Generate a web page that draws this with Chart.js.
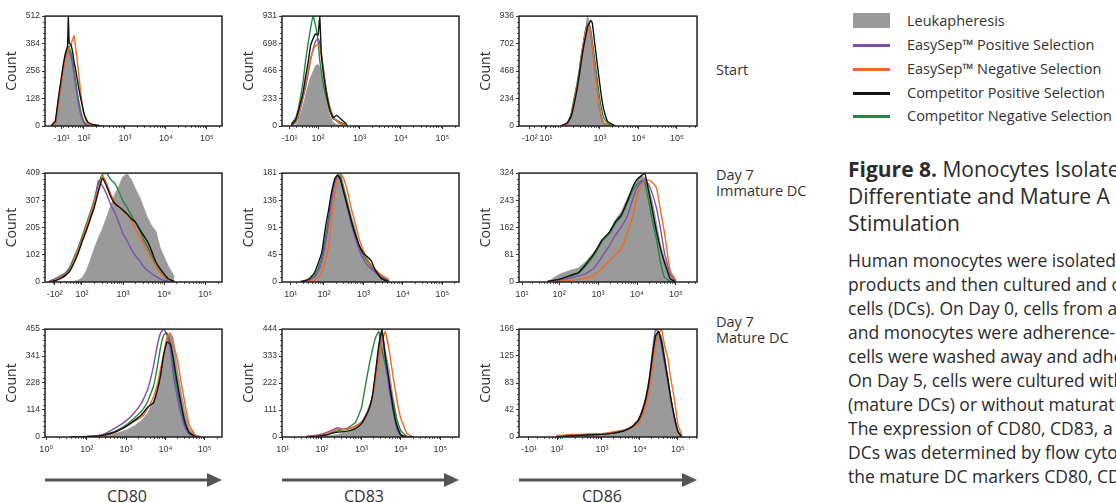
<!DOCTYPE html>
<html>
<head>
<meta charset="utf-8">
<title>Monocytes isolated from leukapheresis – DC markers</title>
<script src="https://cdn.jsdelivr.net/npm/chart.js@4.4.1/dist/chart.umd.min.js"></script>
<style>
  html, body { margin: 0; padding: 0; }
  body { width: 1116px; height: 503px; position: relative; overflow: hidden; background: #fff;
         font-family: 'Open Sans', 'DejaVu Sans', sans-serif; color: #333; }
  canvas { position: absolute; }
  .txt { position: absolute; white-space: nowrap; }
  .row { left: 716px; font-size: 14.5px; line-height: 16px; }
  .key { position: absolute; left: 853px; width: 37px; }
  .leg { left: 907px; font-size: 14.5px; line-height: 16px; }
  .cd { font-size: 16px; line-height: 18px; top: 487px; width: 80px; text-align: center; }
  #caption { position: absolute; left: 848px; top: 156px; width: 400px; color: #2b2b2b; }
  #caption h2 { margin: 0; font-size: 21px; line-height: 27px; font-weight: normal; white-space: nowrap; }
  #caption p { margin: 11px 0 0 0; font-size: 17.5px; line-height: 24px; white-space: nowrap; }
</style>
</head>
<body>

<!-- row labels -->
<div class="txt row" style="top:62px">Start</div>
<div class="txt row" style="top:167px">Day 7</div>
<div class="txt row" style="top:183px">Immature DC</div>
<div class="txt row" style="top:314px">Day 7</div>
<div class="txt row" style="top:330px">Mature DC</div>

<!-- legend -->
<div class="key" style="top:13px;height:15px;background:#9a9a9a"></div>
<div class="key" style="top:44px;height:3px;background:#7a52ad"></div>
<div class="key" style="top:68px;height:3px;background:#f26a24"></div>
<div class="key" style="top:92px;height:3px;background:#111"></div>
<div class="key" style="top:115px;height:3px;background:#1f8a3e"></div>
<div class="txt leg" style="top:13px">Leukapheresis</div>
<div class="txt leg" style="top:37px">EasySep™ Positive Selection</div>
<div class="txt leg" style="top:61px">EasySep™ Negative Selection</div>
<div class="txt leg" style="top:85px">Competitor Positive Selection</div>
<div class="txt leg" style="top:108px">Competitor Negative Selection</div>

<!-- caption -->
<div id="caption">
  <h2><b>Figure 8.</b> Monocytes Isolated<br>Differentiate and Mature A<br>Stimulation</h2>
  <p>Human monocytes were isolated<br>
  products and then cultured and c<br>
  cells (DCs). On Day 0, cells from a<br>
  and monocytes were adherence-s<br>
  cells were washed away and adhe<br>
  On Day 5, cells were cultured with<br>
  (mature DCs) or without maturati<br>
  The expression of CD80, CD83, a<br>
  DCs was determined by flow cyto<br>
  the mature DC markers CD80, CD</p>
</div>

<!-- marker arrows -->
<svg width="720" height="30" style="position:absolute;left:0;top:465px">
  <line x1="45" y1="15" x2="209" y2="15" stroke="#555" stroke-width="3"/>
  <polygon points="207,8 222,15 207,22" fill="#555"/>
  <line x1="282" y1="15" x2="446" y2="15" stroke="#555" stroke-width="3"/>
  <polygon points="444,8 459,15 444,22" fill="#555"/>
  <line x1="519" y1="15" x2="684" y2="15" stroke="#555" stroke-width="3"/>
  <polygon points="682,8 697,15 682,22" fill="#555"/>
</svg>
<div class="txt cd" style="left:87px">CD80</div>
<div class="txt cd" style="left:324px">CD83</div>
<div class="txt cd" style="left:562px">CD86</div>

<script>
// x values are in display decades of the flow cytometry axis (10^k sits at k)

// ---- Start, CD80
const xStartCd80 = [1.20,1.30,1.38,1.45,1.50,1.55,1.60,1.62,1.64,1.68,1.72,1.76,1.80,1.84,1.88,1.92,1.96,2.00,2.05,2.10,2.20,2.40];
const leukStartCd80 = [0,10,120,210,275,320,352,358,355,335,300,255,200,150,105,70,40,20,8,3,0,0];
const esPosStartCd80 = [0,8,115,205,270,315,345,350,345,325,290,240,185,135,90,55,30,14,5,2,0,0];
const esNegStartCd80 = [0,8,110,200,265,310,340,350,365,380,400,420,360,300,230,160,100,55,25,10,2,0];
const compPosStartCd80 = [2,22,135,225,290,340,372,512,385,380,350,300,260,215,170,130,95,60,35,18,8,2];
const compNegStartCd80 = [0,12,125,215,280,330,362,370,365,345,310,262,208,155,110,72,42,22,9,3,0,0];

// ---- Start, CD83
const xStartCd83 = [1.35,1.45,1.52,1.58,1.64,1.70,1.76,1.82,1.88,1.94,2.00,2.04,2.08,2.14,2.20,2.28,2.36,2.45,2.55,2.70];
const leukStartCd83 = [0,5,40,100,170,260,340,410,460,510,520,500,440,350,230,90,30,12,5,0];
const esPosStartCd83 = [0,25,70,150,240,330,440,560,650,720,740,700,620,450,300,160,80,40,15,0];
const esNegStartCd83 = [0,30,90,170,260,360,470,570,640,680,690,670,600,440,300,170,85,45,18,0];
const compPosStartCd83 = [5,45,120,200,290,420,540,680,740,780,770,931,600,420,280,140,70,90,60,10];
const compNegStartCd83 = [20,60,140,250,380,560,700,830,931,850,720,560,460,330,240,140,60,50,30,5];

// ---- Start, CD86
const xStartCd86 = [2.00,2.15,2.25,2.32,2.40,2.46,2.52,2.58,2.64,2.68,2.72,2.76,2.80,2.86,2.92,2.98,3.04,3.10,3.20,3.40];
const leukStartCd86 = [0,10,90,200,330,450,600,740,850,936,880,800,700,520,350,180,80,25,5,0];
const esPosStartCd86 = [0,10,80,190,320,440,590,720,830,870,860,790,690,510,340,175,75,25,5,0];
const esNegStartCd86 = [0,12,85,195,320,440,590,720,820,860,850,790,690,520,340,180,80,28,6,0];
const compPosStartCd86 = [5,25,80,170,300,420,560,680,780,850,870,900,880,720,560,400,250,140,40,0];
const compNegStartCd86 = [0,20,100,220,350,470,610,720,810,850,860,820,730,580,420,270,150,70,20,0];

// ---- Day 7 immature DC, CD80
const xImmCd80 = [1.20,1.35,1.50,1.60,1.70,1.80,1.90,2.00,2.10,2.20,2.30,2.40,2.50,2.60,2.70,2.80,2.90,3.00,3.10,3.20,3.30,3.40,3.50,3.60,3.70,3.80,3.90,4.00,4.10,4.25];
const leukImmCd80 = [0,0,0,0,0,2,6,15,40,80,125,165,200,242,285,330,360,395,405,385,350,320,280,240,210,190,130,95,60,20];
const esPosImmCd80 = [2,12,22,30,48,78,115,155,200,245,295,380,360,330,290,260,223,180,155,124,99,81,58,43,31,21,12,6,3,0];
const esNegImmCd80 = [0,8,18,28,45,80,120,160,205,250,300,350,400,370,330,300,285,266,256,230,200,170,145,115,88,60,37,22,12,3];
const compPosImmCd80 = [0,5,15,25,40,70,105,150,190,235,280,340,390,360,320,295,282,270,255,238,225,200,175,150,115,75,50,30,12,2];
const compNegImmCd80 = [3,12,25,35,55,90,125,170,215,260,310,370,405,409,385,370,340,304,280,250,225,195,160,130,100,62,40,20,10,2];

// ---- Day 7 immature DC, CD83
const xImmCd83 = [1.40,1.60,1.75,1.85,1.95,2.05,2.12,2.20,2.28,2.35,2.42,2.50,2.60,2.70,2.80,2.90,3.00,3.10,3.20,3.30,3.45,3.65];
const leukImmCd83 = [0,1,5,15,30,65,95,135,168,176,181,160,135,108,86,60,47,37,29,22,12,3];
const esPosImmCd83 = [0,2,7,17,34,68,98,138,166,176,172,150,122,95,72,52,38,28,22,16,8,2];
const esNegImmCd83 = [0,1,3,8,18,38,60,110,150,172,181,172,150,120,96,70,52,38,28,20,12,4];
const compPosImmCd83 = [0,4,14,30,50,95,120,151,172,178,170,150,125,100,78,60,48,42,35,20,6,0];
const compNegImmCd83 = [1,4,10,22,42,78,108,145,170,178,175,155,128,102,80,58,45,35,26,18,8,2];

// ---- Day 7 immature DC, CD86
const xImmCd86 = [1.70,2.00,2.30,2.50,2.70,2.90,3.10,3.30,3.45,3.60,3.75,3.90,4.00,4.10,4.20,4.30,4.40,4.50,4.60,4.70,4.85,5.00];
const leukImmCd86 = [0,22,35,42,62,90,118,150,185,210,248,285,300,315,310,280,235,175,112,70,25,3];
const esPosImmCd86 = [0,5,12,18,26,42,75,110,140,165,195,250,280,295,304,290,260,220,160,90,25,2];
const esNegImmCd86 = [0,2,5,8,12,20,40,65,82,100,145,200,255,285,300,304,295,280,215,150,34,5];
const compPosImmCd86 = [2,8,20,28,55,85,125,150,180,200,240,285,305,315,324,270,210,150,100,60,10,0];
const compNegImmCd86 = [1,7,18,26,50,80,120,145,175,195,235,275,290,300,295,240,180,125,60,15,2,0];

// ---- Day 7 mature DC, CD80
const xMatCd80 = [1.60,2.00,2.40,2.70,3.00,3.20,3.40,3.55,3.70,3.80,3.88,3.96,4.04,4.12,4.20,4.30,4.40,4.50,4.60,4.75,4.90];
const leukMatCd80 = [0,0,3,13,28,45,70,100,154,205,270,345,420,440,417,290,190,105,40,8,0];
const esPosMatCd80 = [0,2,10,35,68,100,145,200,300,390,440,455,430,380,265,170,95,40,12,2,0];
const esNegMatCd80 = [0,1,6,18,45,65,85,120,170,225,290,350,420,438,390,334,230,140,55,10,0];
const compPosMatCd80 = [0,1,7,20,45,68,95,125,145,200,262,350,400,395,334,230,140,60,20,3,0];
const compNegMatCd80 = [0,2,8,22,50,78,110,150,215,300,380,430,440,400,310,200,120,55,18,3,0];

// ---- Day 7 mature DC, CD83
const xMatCd83 = [1.60,1.90,2.10,2.25,2.40,2.55,2.70,2.85,3.00,3.10,3.20,3.28,3.36,3.44,3.52,3.60,3.70,3.80,3.90,4.00,4.15,4.30];
const leukMatCd83 = [0,0,3,6,10,18,25,38,55,90,130,165,250,350,430,360,280,165,70,12,2,0];
const esPosMatCd83 = [2,8,18,28,38,32,35,45,62,85,115,170,260,360,434,330,200,110,30,5,0,0];
const esNegMatCd83 = [0,5,12,22,32,30,35,45,60,80,115,160,240,310,390,434,360,250,150,75,15,0];
const compPosMatCd83 = [0,3,8,15,20,22,26,35,55,82,118,170,270,380,444,340,230,120,45,8,0,0];
const compNegMatCd83 = [0,5,10,18,25,30,42,60,120,210,300,360,410,434,360,300,220,150,70,25,3,0];

// ---- Day 7 mature DC, CD86
const xMatCd86 = [1.80,2.20,2.60,3.00,3.30,3.60,3.80,3.95,4.05,4.15,4.25,4.33,4.41,4.49,4.57,4.65,4.73,4.81,4.90,5.00,5.10];
const leukMatCd86 = [1,3,4,5,6,10,16,22,35,55,80,115,150,160,155,125,85,55,30,8,0];
const esPosMatCd86 = [1,3,4,5,7,11,17,26,40,60,92,132,166,160,140,112,85,58,30,8,0];
const esNegMatCd86 = [2,4,4,5,8,11,15,20,30,48,75,108,140,158,166,140,122,90,60,18,3];
const compPosMatCd86 = [0,2,3,4,6,10,16,25,38,58,90,126,156,162,145,118,90,60,32,8,0];
const compNegMatCd86 = [1,3,4,5,6,10,16,24,37,57,86,122,153,163,148,120,92,60,32,9,0];

// axis ticks
const xTicksStartCd80 = [1.46, 2, 3, 4, 5];
const xTicksStartCd83 = [1.31, 2, 3, 4, 5];
const xTicksStartCd86 = [1.18, 1.60, 3, 4, 5];
const xTicksImmCd80 = [1.34, 2, 3, 4, 5];
const xTicksImmCd83 = [1.16, 2, 3, 4, 5];
const xTicksImmCd86 = [1.05, 2, 3, 4, 5];
const xTicksMatCd80 = [0.97, 2, 3, 4, 5];
const xTicksMatCd83 = [1.01, 2, 3, 4, 5];
const xTicksMatCd86 = [1.08, 1.82, 3, 4, 5];
const xLabelsNegTen = ['-10¹', '10²', '10³', '10⁴', '10⁵'];
const xLabelsStartCd86 = ['-10²', '10¹', '10³', '10⁴', '10⁵'];
const xLabelsImmCd80 = ['-10²', '10²', '10³', '10⁴', '10⁵'];
const xLabelsFromTen = ['10¹', '10²', '10³', '10⁴', '10⁵'];
const xLabelsFromOne = ['10⁰', '10²', '10³', '10⁴', '10⁵'];
const xLabelsMatCd86 = ['-10¹', '10²', '10³', '10⁴', '10⁵'];

const yTicksStartCd80 = [0, 128, 256, 384, 512];
const yTicksStartCd83 = [0, 233, 466, 698, 931];
const yTicksStartCd86 = [0, 234, 468, 702, 936];
const yTicksImmCd80 = [0, 102, 205, 307, 409];
const yTicksImmCd83 = [0, 45, 91, 136, 181];
const yTicksImmCd86 = [0, 81, 162, 243, 324];
const yTicksMatCd80 = [0, 114, 228, 341, 455];
const yTicksMatCd83 = [0, 111, 222, 333, 444];
const yTicksMatCd86 = [0, 42, 83, 125, 166];

const TICK_FONT = "'Liberation Sans', 'DejaVu Sans', sans-serif";
Chart.defaults.font.family = "'Open Sans', 'DejaVu Sans', sans-serif";

// drawing order: grey fill behind, black on top
const lineStyles = {
  cpos:  { label: 'Competitor Positive Selection', color: '#111111', order: 1 },
  esneg: { label: 'EasySep™ Negative Selection', color: '#f26a24', order: 2 },
  espos: { label: 'EasySep™ Positive Selection', color: '#7a52ad', order: 3 },
  cneg:  { label: 'Competitor Negative Selection', color: '#1f8a3e', order: 4 }
};

const panels = [
  { box: [45, 15, 177, 111], xMin: 1.05, xMax: 5.37, x: xStartCd80, leuk: leukStartCd80, espos: esPosStartCd80, esneg: esNegStartCd80, cpos: compPosStartCd80, cneg: compNegStartCd80, xTicks: xTicksStartCd80, xLabels: xLabelsNegTen, yTicks: yTicksStartCd80 },
  { box: [282, 15, 177, 111], xMin: 1.13, xMax: 5.40, x: xStartCd83, leuk: leukStartCd83, espos: esPosStartCd83, esneg: esNegStartCd83, cpos: compPosStartCd83, cneg: compNegStartCd83, xTicks: xTicksStartCd83, xLabels: xLabelsNegTen, yTicks: yTicksStartCd83 },
  { box: [519, 15, 178, 111], xMin: 0.90, xMax: 5.52, x: xStartCd86, leuk: leukStartCd86, espos: esPosStartCd86, esneg: esNegStartCd86, cpos: compPosStartCd86, cneg: compNegStartCd86, xTicks: xTicksStartCd86, xLabels: xLabelsStartCd86, yTicks: yTicksStartCd86 },
  { box: [45, 172, 177, 110], xMin: 1.10, xMax: 5.41, x: xImmCd80, leuk: leukImmCd80, espos: esPosImmCd80, esneg: esNegImmCd80, cpos: compPosImmCd80, cneg: compNegImmCd80, xTicks: xTicksImmCd80, xLabels: xLabelsImmCd80, yTicks: yTicksImmCd80 },
  { box: [282, 172, 177, 110], xMin: 0.94, xMax: 5.42, x: xImmCd83, leuk: leukImmCd83, espos: esPosImmCd83, esneg: esNegImmCd83, cpos: compPosImmCd83, cneg: compNegImmCd83, xTicks: xTicksImmCd83, xLabels: xLabelsFromTen, yTicks: yTicksImmCd83 },
  { box: [519, 172, 178, 110], xMin: 0.97, xMax: 5.54, x: xImmCd86, leuk: leukImmCd86, espos: esPosImmCd86, esneg: esNegImmCd86, cpos: compPosImmCd86, cneg: compNegImmCd86, xTicks: xTicksImmCd86, xLabels: xLabelsFromTen, yTicks: yTicksImmCd86 },
  { box: [45, 328, 177, 109], xMin: 0.94, xMax: 5.44, x: xMatCd80, leuk: leukMatCd80, espos: esPosMatCd80, esneg: esNegMatCd80, cpos: compPosMatCd80, cneg: compNegMatCd80, xTicks: xTicksMatCd80, xLabels: xLabelsFromOne, yTicks: yTicksMatCd80 },
  { box: [282, 328, 177, 109], xMin: 0.99, xMax: 5.47, x: xMatCd83, leuk: leukMatCd83, espos: esPosMatCd83, esneg: esNegMatCd83, cpos: compPosMatCd83, cneg: compNegMatCd83, xTicks: xTicksMatCd83, xLabels: xLabelsFromTen, yTicks: yTicksMatCd83 },
  { box: [519, 328, 178, 109], xMin: 0.82, xMax: 5.50, x: xMatCd86, leuk: leukMatCd86, espos: esPosMatCd86, esneg: esNegMatCd86, cpos: compPosMatCd86, cneg: compNegMatCd86, xTicks: xTicksMatCd86, xLabels: xLabelsMatCd86, yTicks: yTicksMatCd86 }
];

// box around the plot + small log ticks
const framePlugin = {
  id: 'frame',
  afterDatasetsDraw(chart) {
    const { ctx, chartArea: a, scales: { x, y } } = chart;
    ctx.save();
    ctx.strokeStyle = '#333';
    ctx.lineWidth = 0.8;
    ctx.beginPath();
    for (let k = 1; k <= 5; k++) {
      for (let m = 2; m <= 9; m++) {
        const v = k + Math.log10(m);
        if (v <= x.min + 0.04 || v >= x.max) continue;
        const px = Math.round(x.getPixelForValue(v)) + 0.5;
        ctx.moveTo(px, a.bottom);
        ctx.lineTo(px, a.bottom + 2);
      }
    }
    const yt = y.ticks.map(t => t.value);
    for (let i = 0; i < yt.length - 1; i++) {
      for (let j = 1; j < 5; j++) {
        const py = Math.round(y.getPixelForValue(yt[i] + (yt[i + 1] - yt[i]) * j / 5)) + 0.5;
        ctx.moveTo(a.left, py);
        ctx.lineTo(a.left - 2, py);
      }
    }
    ctx.stroke();
    ctx.lineWidth = 1.5;
    ctx.strokeStyle = '#222';
    ctx.strokeRect(a.left, a.top, a.right - a.left, a.bottom - a.top);
    ctx.restore();
  }
};

function makePanel(p) {
  const [left, top, w, h] = p.box;
  const canvas = document.createElement('canvas');
  canvas.width = 45 + w + 4;
  canvas.height = 6 + h + 20;
  canvas.style.left = (left - 45) + 'px';
  canvas.style.top = (top - 6) + 'px';
  document.body.appendChild(canvas);

  const pts = arr => p.x.map((x, i) => ({ x: x, y: arr[i] }));
  const datasets = Object.keys(lineStyles).map(key => ({
    label: lineStyles[key].label,
    data: pts(p[key]),
    borderColor: lineStyles[key].color,
    borderWidth: 1.4,
    order: lineStyles[key].order,
    fill: false
  }));
  datasets.push({
    label: 'Leukapheresis',
    data: pts(p.leuk),
    borderColor: '#9a9a9a',
    backgroundColor: '#9a9a9a',
    borderWidth: 1,
    fill: 'origin',
    order: 9
  });

  new Chart(canvas, {
    type: 'line',
    data: { datasets: datasets },
    options: {
      responsive: false,
      animation: false,
      events: [],
      layout: { padding: { top: 6, right: 4, left: 0, bottom: 0 } },
      elements: { point: { radius: 0 }, line: { tension: 0.1 } },
      plugins: { legend: { display: false }, tooltip: { enabled: false } },
      scales: {
        x: {
          type: 'linear',
          min: p.xMin,
          max: p.xMax,
          afterBuildTicks: s => { s.ticks = p.xTicks.map(v => ({ value: v })); },
          afterFit: s => { s.height = 20; },
          grid: { drawOnChartArea: false, tickLength: 3, color: '#333' },
          border: { display: false },
          ticks: {
            autoSkip: false, maxRotation: 0, padding: 4, color: '#333',
            font: { size: 9, family: TICK_FONT },
            callback: (v, i) => p.xLabels[i]
          }
        },
        y: {
          min: 0,
          max: p.yTicks[p.yTicks.length - 1],
          afterBuildTicks: s => { s.ticks = p.yTicks.map(v => ({ value: v })); },
          afterFit: s => { s.width = 45; },
          grid: { drawOnChartArea: false, tickLength: 3, color: '#333' },
          border: { display: false },
          ticks: { padding: 2, color: '#333', font: { size: 8.5, family: TICK_FONT }, callback: v => String(v) },
          title: { display: true, text: 'Count', color: '#333', font: { size: 14 }, padding: { top: 4, bottom: 0 } }
        }
      }
    },
    plugins: [framePlugin]
  });
}

panels.forEach(makePanel);
</script>
</body>
</html>
